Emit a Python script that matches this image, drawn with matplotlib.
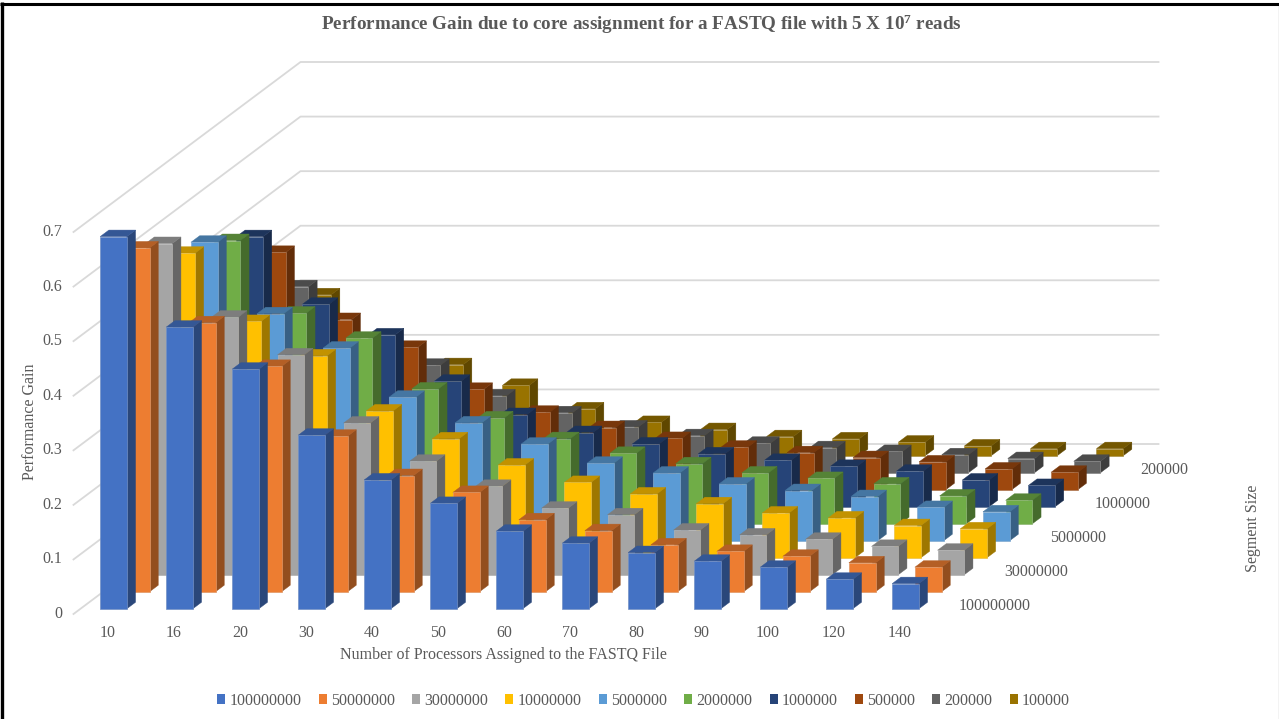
import numpy as np
import matplotlib
matplotlib.use('Agg')
from matplotlib import pyplot as plt
from matplotlib.colors import to_rgb
from matplotlib.patches import Patch

plt.rcParams['font.family'] = ['Liberation Serif', 'DejaVu Serif']
plt.rcParams['mathtext.fontset'] = 'custom'
plt.rcParams['mathtext.rm'] = 'Liberation Serif'
plt.rcParams['mathtext.bf'] = 'Liberation Serif:bold'

# Data
processors = ['10', '16', '20', '30', '40', '50', '60', '70', '80', '90', '100', '120', '140']
segments = ['100000000', '50000000', '30000000', '10000000', '5000000',
            '2000000', '1000000', '500000', '200000', '100000']
depth_labels = ['100000000', '30000000', '5000000', '1000000', '200000']
y_ticks = [0, 0.1, 0.2, 0.3, 0.4, 0.5, 0.6, 0.7]

gain_100000000 = [.682, .516, .439, .318, .236, .193, .142, .120, .103, .087, .076, .054, .046]
gain_50000000 = [.630, .493, .413, .285, .213, .182, .132, .112, .086, .074, .065, .053, .045]
gain_30000000 = [.607, .472, .403, .278, .208, .162, .122, .110, .082, .073, .065, .052, .045]
gain_10000000 = [.558, .433, .370, .269, .218, .170, .138, .117, .099, .082, .073, .059, .053]
gain_5000000 = [.547, .416, .353, .263, .216, .177, .142, .124, .104, .092, .081, .061, .053]
gain_2000000 = [.519, .386, .340, .247, .194, .156, .129, .110, .093, .083, .073, .051, .043]
gain_1000000 = [.495, .371, .315, .230, .169, .136, .115, .097, .085, .074, .065, .049, .039]
gain_500000 = [.435, .312, .261, .184, .142, .114, .094, .078, .068, .059, .051, .038, .032]
gain_200000 = [.341, .210, .197, .141, .110, .084, .068, .054, .046, .039, .033, .026, .021]
gain_100000 = [.295, .190, .167, .129, .086, .061, .048, .035, .031, .025, .018, .013, .013]

gains = [gain_100000000, gain_50000000, gain_30000000, gain_10000000, gain_5000000,
         gain_2000000, gain_1000000, gain_500000, gain_200000, gain_100000]
colors = ['#4472C4', '#ED7D31', '#A5A5A5', '#FFC000', '#5B9BD5',
          '#70AD47', '#264478', '#9E480E', '#636363', '#997300']

# Oblique projection like the Excel 3D column chart
X0, Y0 = 73.5, 614
CAT_W = 66
DEPTH_X, DEPTH_Y = 22.7, 17
VAL_H = 545.7
BAR_W = 0.404
BAR_D = 0.384
GRAY = '#595959'


def proj(c, s, v):
    return X0 + CAT_W * c + DEPTH_X * s, Y0 - DEPTH_Y * s - VAL_H * v


def shade(col, f):
    return tuple(x * f for x in to_rgb(col))


def edge(col):
    # faint grey outline mixed into the bar colour
    return tuple(0.65 * x + 0.35 * 0.78 for x in to_rgb(col))


fig = plt.figure(figsize=(12.79, 7.19), dpi=100)
ax = fig.add_axes([0, 0, 1, 1])
ax.set_xlim(0, 1279)
ax.set_ylim(719, 0)
ax.axis('off')

# Walls
n_cat = len(processors)
n_ser = len(segments)
for v in y_ticks:
    a = proj(0, 0, v)
    b = proj(0, n_ser, v)
    c = proj(n_cat, n_ser, v)
    ax.plot([a[0], b[0], c[0]], [a[1], b[1], c[1]], color='#D9D9D9', lw=1.3, zorder=1)

# Bars, back series first
z = 2
for j in range(n_ser - 1, -1, -1):
    col = colors[j]
    for i in range(n_cat):
        v = gains[j][i]
        c0 = i + (1 - BAR_W) / 2
        c1 = c0 + BAR_W
        s0 = j + (1 - BAR_D) / 2
        s1 = s0 + BAR_D
        front = [proj(c0, s0, 0), proj(c1, s0, 0), proj(c1, s0, v), proj(c0, s0, v)]
        side = [proj(c1, s0, 0), proj(c1, s1, 0), proj(c1, s1, v), proj(c1, s0, v)]
        top = [proj(c0, s0, v), proj(c1, s0, v), proj(c1, s1, v), proj(c0, s1, v)]
        ax.fill(*zip(*side), facecolor=shade(col, 0.62), edgecolor=shade(col, 0.62), lw=0.3, zorder=z)
        ax.fill(*zip(*top), facecolor=shade(col, 0.76), edgecolor=shade(col, 0.76), lw=0.3, zorder=z)
        ax.fill(*zip(*front), facecolor=col, edgecolor=edge(col), lw=0.5, zorder=z)
    z += 1

# Tick labels
for v in y_ticks:
    ax.text(62, proj(0, 0, v)[1], str(v), ha='right', va='center', fontsize=11.5, color=GRAY)
for i, name in enumerate(processors):
    ax.text(proj(i + 0.5, 0, 0)[0] + 1.5, 633, name, ha='center', va='center', fontsize=11.5, color=GRAY)
for name in depth_labels:
    s = segments.index(name)
    x, y = proj(n_cat, s + 0.5, 0)
    ax.text(x + 16, y, name, ha='left', va='center', fontsize=11.5, color=GRAY)

# Titles
ax.text(641, 24, r'Performance Gain due to core assignment for a FASTQ file with 5 X 10$\mathbf{^{7}}$ reads',
        ha='center', va='center', fontsize=13.8, fontweight='bold', color=GRAY)
ax.text(503, 655, 'Number of Processors Assigned to the FASTQ File', ha='center', va='center',
        fontsize=11.5, color=GRAY)
ax.text(30, 422, 'Performance Gain', rotation=90, ha='center', va='center', fontsize=11.5, color=GRAY)
ax.text(1253, 528, 'Segment Size', rotation=90, ha='center', va='center', fontsize=11.5, color=GRAY)

# Legend
handles = [Patch(facecolor=c, label=n) for c, n in zip(colors, segments)]
ax.legend(handles=handles, ncols=n_ser, loc='center', bbox_to_anchor=(643.5 / 1279, 1 - 701 / 719),
          frameon=False, fontsize=11.5, labelcolor=GRAY, handlelength=0.5, handleheight=0.6,
          handletextpad=0.25, columnspacing=1.09, borderpad=0)

# Chart border
ax.plot([1.5, 1.5], [2, 719], color='black', lw=2.4, zorder=50, solid_capstyle='butt')
ax.plot([0, 1279], [3.5, 3.5], color='black', lw=2.2, zorder=50, solid_capstyle='butt')
ax.plot([1278.5, 1278.5], [3, 719], color='#333333', lw=0.8, zorder=50, solid_capstyle='butt')

fig.savefig('out.png', dpi=100)
